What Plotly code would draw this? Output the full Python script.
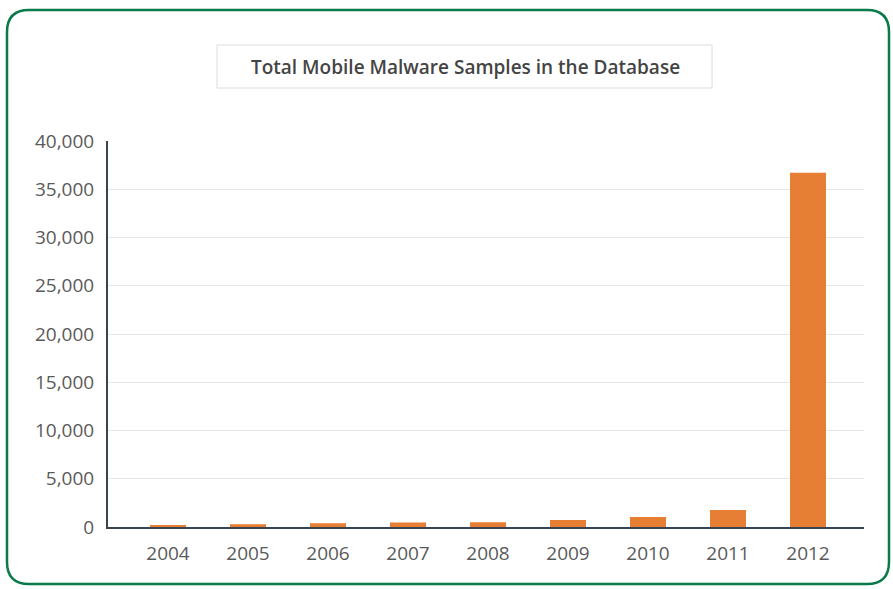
import plotly.graph_objects as go

years = ["2004", "2005", "2006", "2007", "2008", "2009", "2010", "2011", "2012"]
samples = [130, 280, 380, 460, 500, 730, 1040, 1760, 36700]
y_ticks = [0, 5000, 10000, 15000, 20000, 25000, 30000, 35000, 40000]
y_labels = ["0", "5,000", "10,000", "15,000", "20,000", "25,000", "30,000", "35,000", "40,000"]
title_text = "Total Mobile Malware Samples in the Database"

W, H = 893, 589
L, R, T, B = 108, 864, 141, 527

def px(x):
    return (x - L) / (R - L)

def py(y):
    return (B - y) / (B - T)

fig = go.Figure()
fig.add_trace(go.Bar(x=list(range(len(years))), y=samples, marker_color="#e67e33",
                     marker_line_width=0, width=0.45))

# rounded green border
x0, x1, y0, y1, r = 7, 889, 10, 584, 22
path = (f"M {px(x0+r)},{py(y0)} L {px(x1-r)},{py(y0)} "
        f"Q {px(x1)},{py(y0)} {px(x1)},{py(y0+r)} "
        f"L {px(x1)},{py(y1-r)} Q {px(x1)},{py(y1)} {px(x1-r)},{py(y1)} "
        f"L {px(x0+r)},{py(y1)} Q {px(x0)},{py(y1)} {px(x0)},{py(y1-r)} "
        f"L {px(x0)},{py(y0+r)} Q {px(x0)},{py(y0)} {px(x0+r)},{py(y0)} Z")
shapes = [
    dict(type="path", xref="paper", yref="paper", path=path,
         line=dict(color="#0b7a4a", width=2.5), layer="above"),
    dict(type="rect", xref="paper", yref="paper", x0=px(217), x1=px(712), y0=py(88), y1=py(45),
         line=dict(color="#dcdcdc", width=1), fillcolor="rgba(0,0,0,0)"),
]

fig.update_layout(
    width=W, height=H,
    margin=dict(l=L, r=W - R, t=T, b=H - B),
    paper_bgcolor="white", plot_bgcolor="white",
    showlegend=False,
    shapes=shapes,
    font=dict(family="Open Sans", color="#5a5a5a", size=19),
    annotations=[dict(text=title_text, xref="paper", yref="paper", x=px(465), y=py(67),
                      showarrow=False, xanchor="center", yanchor="middle",
                      font=dict(family="Open Sans", size=19, color="#444444", weight=600))],
)
fig.update_xaxes(range=[-0.75, 8.7], tickmode="array", tickvals=list(range(len(years))),
                 ticktext=years, showline=True, linecolor="#3a4450", linewidth=2,
                 showgrid=False, zeroline=False, ticks="", ticklabelstandoff=8,
                 tickfont=dict(size=19, color="#5a5a5a"))
fig.update_yaxes(range=[0, 40000], tickmode="array", tickvals=y_ticks, ticktext=y_labels,
                 showline=True, linecolor="#3a4450", linewidth=2,
                 showgrid=True, gridcolor="#e6e6e6", gridwidth=1, zeroline=False,
                 ticks="", ticklabelstandoff=8, tickfont=dict(size=19, color="#5a5a5a"))

fig.write_html("out.html")
